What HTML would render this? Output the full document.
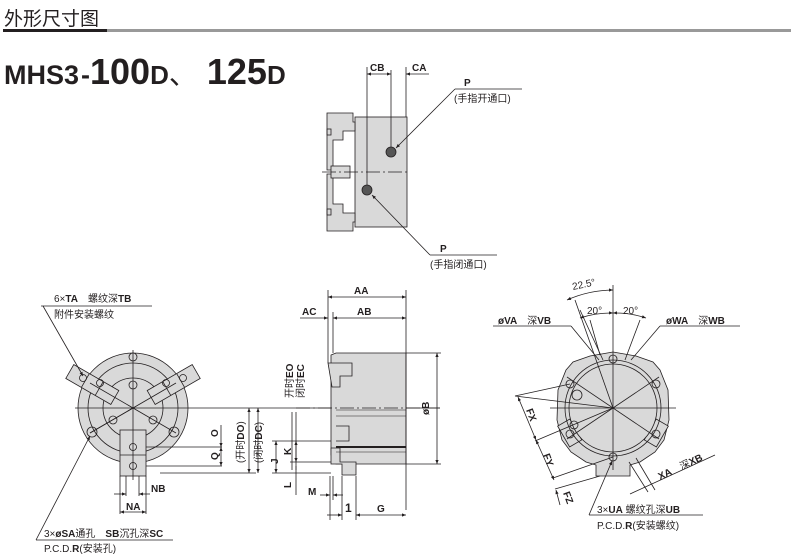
<!DOCTYPE html>
<html><head><meta charset="utf-8"><style>
body{margin:0;background:#fff;width:791px;height:560px;overflow:hidden}
svg{display:block}
text{font-family:"Liberation Sans","Noto Sans CJK SC",sans-serif;fill:#231f20}
.b{font-weight:bold}
</style></head><body>
<svg width="791" height="560" viewBox="0 0 791 560" xmlns="http://www.w3.org/2000/svg">
<defs>
<marker id="a" viewBox="0 0 10 10" refX="10" refY="5" markerWidth="6" markerHeight="5" orient="auto-start-reverse"><path d="M0,1 L10,5 L0,9z" fill="#231f20"/></marker>
</defs>
<!-- header -->
<text x="4" y="25" font-size="19">外形尺寸图</text>
<rect x="3" y="29" width="104" height="3" fill="#231f20"/>
<rect x="107" y="29" width="684" height="3" fill="#999"/>
<text x="4" y="84" class="b" font-size="27">MHS3<tspan dx="2">-</tspan><tspan font-size="36">100</tspan><tspan font-size="26">D</tspan><tspan font-weight="normal" font-size="28">、</tspan><tspan font-size="36" dx="10">125</tspan><tspan font-size="26">D</tspan></text>

<g stroke="#231f20" stroke-width="0.8" fill="none">
<!-- ===== top view ===== -->
<rect x="355" y="117" width="52" height="110" fill="#d9d9d9"/>
<path d="M327,113 H353 V122 H355 V131 H343 V140 H333 V170 H327 Z" fill="#d9d9d9"/>
<path d="M327,231 H353 V222 H355 V213 H343 V204 H333 V174 H327 Z" fill="#d9d9d9"/>
<rect x="331" y="166" width="19" height="12" fill="#d9d9d9"/>
<rect x="327" y="129" width="4" height="6"/><rect x="327" y="209" width="4" height="6"/>
<line x1="322" y1="172" x2="410" y2="172" stroke-dasharray="14,3,2,3"/>
<line x1="367" y1="67" x2="367" y2="190"/><line x1="391" y1="70" x2="391" y2="152"/><line x1="406" y1="67" x2="406" y2="117"/>
<line x1="367" y1="74" x2="391" y2="74" marker-start="url(#a)" marker-end="url(#a)"/>
<line x1="429" y1="74" x2="406" y2="74" marker-end="url(#a)"/>
<circle cx="391" cy="152" r="5" fill="#555"/><circle cx="367" cy="190" r="5" fill="#555"/>
<line x1="455" y1="89" x2="522" y2="89"/><line x1="455" y1="89" x2="396" y2="148" marker-end="url(#a)"/>
<line x1="430" y1="255" x2="497" y2="255"/><line x1="430" y1="255" x2="372" y2="195" marker-end="url(#a)"/>

<!-- ===== left front view ===== -->
<circle cx="133" cy="408" r="55" fill="#d9d9d9"/>
<circle cx="133" cy="408" r="45"/>
<circle cx="133" cy="408" r="30"/>
<rect x="120" y="430" width="26" height="46" fill="#d9d9d9"/>
<line x1="120" y1="455" x2="146" y2="455"/>
<g transform="rotate(30 133 408)"><rect x="60" y="400" width="52" height="16" fill="#d9d9d9"/><line x1="78" y1="400" x2="78" y2="416"/><line x1="94" y1="400" x2="94" y2="416"/></g>
<g transform="rotate(-30 133 408)"><rect x="154" y="400" width="52" height="16" fill="#d9d9d9"/><line x1="172" y1="400" x2="172" y2="416"/><line x1="188" y1="400" x2="188" y2="416"/></g>
<line x1="75" y1="408" x2="440" y2="408"/><line x1="133" y1="350" x2="133" y2="480"/>
<line x1="90" y1="383" x2="176" y2="433"/><line x1="176" y1="383" x2="90" y2="433"/>
<line x1="133" y1="408" x2="90" y2="433"/>
<circle cx="133" cy="385" r="4"/><circle cx="113" cy="420" r="4"/><circle cx="153" cy="420" r="4"/>
<circle cx="133" cy="357" r="4"/><circle cx="92" cy="432" r="5"/><circle cx="174" cy="432" r="5"/>
<circle cx="133" cy="447" r="3.5"/><circle cx="133" cy="466" r="3.5"/>
<circle cx="83" cy="378" r="3.5"/><circle cx="100" cy="383" r="3.5"/><circle cx="183" cy="378" r="3.5"/><circle cx="166" cy="383" r="3.5"/>
<line x1="146" y1="447" x2="222" y2="447"/><line x1="146" y1="466" x2="222" y2="466"/><line x1="160" y1="473" x2="256" y2="473"/>
<line x1="221" y1="425" x2="221" y2="447" marker-end="url(#a)"/><line x1="221" y1="447" x2="221" y2="466" marker-start="url(#a)" marker-end="url(#a)"/>
<line x1="249" y1="408" x2="249" y2="473" marker-start="url(#a)" marker-end="url(#a)"/>
<line x1="258" y1="408" x2="258" y2="473" marker-start="url(#a)" marker-end="url(#a)"/>
<line x1="120" y1="476" x2="120" y2="514"/><line x1="146" y1="476" x2="146" y2="514"/><line x1="126" y1="476" x2="126" y2="496"/><line x1="139" y1="476" x2="139" y2="496"/>
<line x1="114" y1="494" x2="126" y2="494" marker-end="url(#a)"/><line x1="150" y1="494" x2="139" y2="494" marker-end="url(#a)"/>
<line x1="120" y1="512" x2="146" y2="512" marker-start="url(#a)" marker-end="url(#a)"/>
<line x1="41" y1="306" x2="152" y2="306"/><line x1="43" y1="306" x2="83" y2="376" marker-end="url(#a)"/>
<line x1="36" y1="540" x2="173" y2="540"/><line x1="36" y1="540" x2="90" y2="436" marker-end="url(#a)"/>

<!-- ===== middle side view ===== -->
<path d="M336,353 H406 V464 H336 V455 H331 V355 Z" fill="#d9d9d9"/>
<path d="M328,363 H352 V376 H340 V387 H332 Z" fill="#d9d9d9"/>
<path d="M331,448 H340 V462 H356 V475 H342 V464 H331 Z" fill="#d9d9d9"/>
<line x1="336" y1="410" x2="406" y2="410" stroke-width="0.6"/>
<line x1="336" y1="416" x2="406" y2="416" stroke-width="0.6"/>
<line x1="336" y1="447" x2="406" y2="447" stroke-width="2"/>
<line x1="336" y1="452" x2="406" y2="452" stroke-width="0.6"/>
<path d="M336,426 H349 V441 H336"/>
<line x1="296" y1="408" x2="440" y2="408" stroke-dasharray="14,3,2,3"/>
<line x1="328" y1="290" x2="328" y2="363"/><line x1="333" y1="312" x2="333" y2="353"/><line x1="406" y1="290" x2="406" y2="510"/>
<line x1="328" y1="297" x2="406" y2="297" marker-start="url(#a)" marker-end="url(#a)"/>
<line x1="300" y1="318" x2="328" y2="318" marker-end="url(#a)"/><line x1="333" y1="318" x2="406" y2="318" marker-start="url(#a)" marker-end="url(#a)"/>
<line x1="406" y1="353" x2="441" y2="353"/><line x1="406" y1="464" x2="441" y2="464"/>
<line x1="437" y1="353" x2="437" y2="464" marker-start="url(#a)" marker-end="url(#a)"/>
<line x1="292" y1="412" x2="292" y2="470"/><line x1="296" y1="412" x2="296" y2="470"/>
<line x1="272" y1="441" x2="331" y2="441"/><line x1="290" y1="462" x2="331" y2="462"/><line x1="272" y1="473" x2="331" y2="473"/>
<line x1="276" y1="441" x2="276" y2="473" marker-start="url(#a)" marker-end="url(#a)"/>
<line x1="296" y1="441" x2="296" y2="462" marker-start="url(#a)" marker-end="url(#a)"/>
<line x1="296" y1="466" x2="296" y2="495"/>
<line x1="330" y1="476" x2="330" y2="520"/><line x1="333" y1="476" x2="333" y2="500"/><line x1="342" y1="476" x2="342" y2="520"/><line x1="356" y1="476" x2="356" y2="520"/>
<line x1="320" y1="495" x2="330" y2="495" marker-end="url(#a)"/><line x1="343" y1="495" x2="333" y2="495" marker-end="url(#a)"/>
<line x1="327" y1="515" x2="342" y2="515" marker-end="url(#a)"/><line x1="356" y1="515" x2="406" y2="515" marker-start="url(#a)" marker-end="url(#a)"/>

<!-- ===== right view ===== -->
<path d="M566,370 L573,362 L590,356 L613,352 L636,356 L653,362 L660,370 L668,390 L669,420 L664,440 L655,452 L640,462 L630,465 L630,476 L596,476 L596,465 L586,462 L571,452 L562,440 L557,420 L558,390 Z" fill="#d9d9d9"/>
<g transform="rotate(-30 613 408)"><rect x="556" y="396" width="14" height="24" fill="#d9d9d9"/></g>
<g transform="rotate(30 613 408)"><rect x="656" y="396" width="14" height="24" fill="#d9d9d9"/></g>
<circle cx="613" cy="408" r="48"/>
<circle cx="613" cy="408" r="44" fill="#d9d9d9"/>
<line x1="550" y1="408" x2="676" y2="408"/><line x1="613" y1="285" x2="613" y2="470"/>
<circle cx="613" cy="359" r="4"/><circle cx="570" cy="384" r="4"/><circle cx="656" cy="384" r="4"/><circle cx="570" cy="434" r="4"/><circle cx="656" cy="434" r="4"/><circle cx="613" cy="457" r="4"/>
<circle cx="577" cy="395" r="5"/><circle cx="574" cy="425" r="4"/>
<line x1="567" y1="377" x2="659" y2="439"/><line x1="567" y1="439" x2="659" y2="377"/>
<line x1="575" y1="300" x2="613" y2="408"/><line x1="580" y1="310" x2="603" y2="360"/><line x1="590" y1="320" x2="600" y2="355"/><line x1="640" y1="320" x2="625" y2="360"/>
<path d="M567,300 A115,115 0 0 1 613,290" marker-start="url(#a)" marker-end="url(#a)"/>
<path d="M580,318 A95,95 0 0 1 613,313" marker-start="url(#a)" marker-end="url(#a)"/>
<path d="M613,313 A95,95 0 0 1 646,318" marker-start="url(#a)" marker-end="url(#a)"/>
<line x1="493" y1="326" x2="571" y2="326"/><line x1="571" y1="326" x2="599" y2="360"/>
<line x1="660" y1="326" x2="740" y2="326"/><line x1="660" y1="326" x2="631" y2="360"/>
<line x1="515" y1="396" x2="613" y2="408"/>
<line x1="515" y1="396" x2="570" y2="384"/><line x1="535" y1="441" x2="613" y2="408"/><line x1="553" y1="478" x2="613" y2="457"/><line x1="555" y1="489" x2="600" y2="476"/>
<line x1="518" y1="397" x2="536" y2="440" marker-start="url(#a)" marker-end="url(#a)"/>
<line x1="536" y1="440" x2="554" y2="480" marker-start="url(#a)" marker-end="url(#a)"/>
<line x1="560" y1="505" x2="556" y2="490" marker-end="url(#a)"/>
<line x1="629" y1="462" x2="648" y2="492"/><line x1="636" y1="458" x2="655" y2="490"/>
<line x1="630" y1="494" x2="715" y2="455"/>
<line x1="589" y1="515" x2="703" y2="515"/><line x1="589" y1="515" x2="612" y2="461" marker-end="url(#a)"/>
</g>

<!-- text labels -->
<g font-size="10">
<text x="370" y="71" class="b">CB</text><text x="412" y="71" class="b">CA</text>
<text x="464" y="86" class="b">P</text><text x="454" y="102">(手指开通口)</text>
<text x="440" y="252" class="b">P</text><text x="430" y="268">(手指闭通口)</text>
<text x="54" y="302">6×<tspan class="b">TA</tspan>　螺纹深<tspan class="b">TB</tspan></text>
<text x="54" y="318">附件安装螺纹</text>
<text x="44" y="537">3×<tspan class="b">øSA</tspan>通孔　<tspan class="b">SB</tspan>沉孔深<tspan class="b">SC</tspan></text>
<text x="44" y="552">P.C.D.<tspan class="b">R</tspan>(安装孔)</text>
<text x="151" y="492" class="b">NB</text><text x="126" y="510" class="b">NA</text>
<text x="218" y="437" class="b" transform="rotate(-90 218 437)">O</text>
<text x="218" y="460" class="b" transform="rotate(-90 218 460)">Q</text>
<text x="244" y="463" transform="rotate(-90 244 463)">(开时<tspan class="b">DO</tspan>)</text>
<text x="262" y="463" transform="rotate(-90 262 463)">(闭时<tspan class="b">DC</tspan>)</text>
<text x="354" y="294" class="b">AA</text><text x="357" y="315" class="b">AB</text><text x="302" y="315" class="b">AC</text>
<text x="429" y="415" class="b" transform="rotate(-90 429 415)">øB</text>
<text x="293" y="398" transform="rotate(-90 293 398)">开时<tspan class="b">EO</tspan></text>
<text x="304" y="398" transform="rotate(-90 304 398)">闭时<tspan class="b">EC</tspan></text>
<text x="291" y="455" class="b" transform="rotate(-90 291 455)">K</text>
<text x="278" y="464" class="b" transform="rotate(-90 278 464)">J</text>
<text x="291" y="488" class="b" transform="rotate(-90 291 488)">L</text>
<text x="308" y="495" class="b">M</text><text x="345" y="512" class="b" font-size="12">1</text><text x="377" y="512" class="b">G</text>
<text x="573" y="290" transform="rotate(-12 573 290)">22.5°</text>
<text x="587" y="314">20°</text><text x="623" y="314">20°</text>
<text x="498" y="324"><tspan class="b">øVA</tspan>　深<tspan class="b">VB</tspan></text>
<text x="666" y="324"><tspan class="b">øWA</tspan>　深<tspan class="b">WB</tspan></text>
<text x="526" y="410" class="b" transform="rotate(70 526 410)">FX</text>
<text x="543" y="455" class="b" transform="rotate(70 543 455)">FY</text>
<text x="563" y="493" class="b" transform="rotate(70 563 493)">FZ</text>
<text x="660" y="480" transform="rotate(-25 660 480)"><tspan class="b">XA</tspan>　深<tspan class="b">XB</tspan></text>
<text x="597" y="513">3×<tspan class="b">UA</tspan> 螺纹孔深<tspan class="b">UB</tspan></text>
<text x="597" y="529">P.C.D.<tspan class="b">R</tspan>(安装螺纹)</text>
</g>
</svg>
</body></html>
